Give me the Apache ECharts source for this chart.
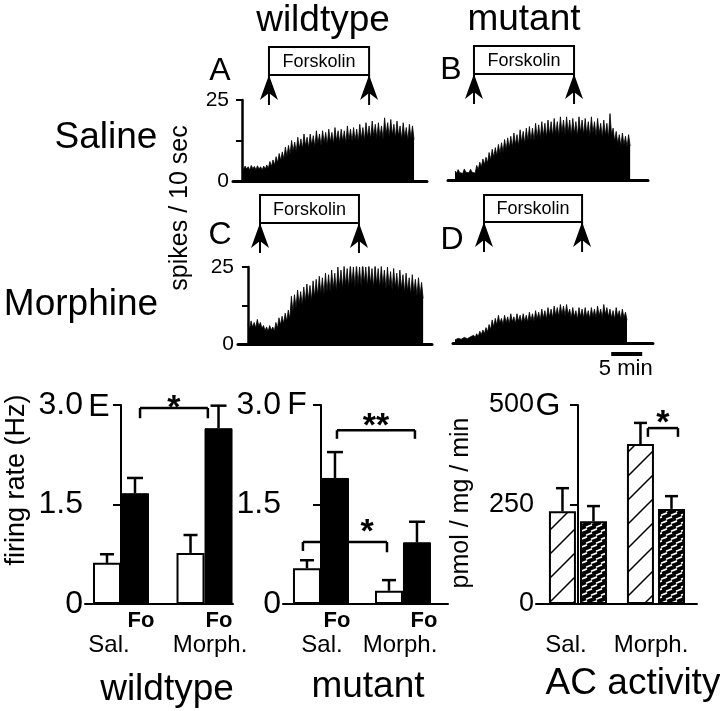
<!DOCTYPE html>
<html><head><meta charset="utf-8">
<script src="https://cdn.jsdelivr.net/npm/echarts@6/dist/echarts.min.js"></script>
<style>html,body{margin:0;padding:0;background:#fff}#c{width:720px;height:711px}</style>
</head><body><div id="c"></div><script>
const FONT = '"Liberation Sans", Arial, Helvetica, sans-serif';

// ---------- DATA ----------
// Spike traces: spikes / 10 sec, one value every 0.25 min from trace start
const binMinutes = 0.25;
const traceA = [4.3,3.5,4.6,3.7,4.4,3.4,4.8,3.8,4.5,3.5,4.7,3.6,4.4,3.4,4.6,3.7,4.9,3.9,6,4.5,6.5,4.9,7.5,5.6,8.5,6.3,9,6.8,10.5,7.6,11,8.2,12.5,9.2,12,9,13.5,10,13,9.8,14.5,10.8,13.5,10.2,14.5,11,14,10.5,15.5,11.5,14.5,10.9,15.5,11.8,15,11.2,16,12,15,11.4,16.5,12.3,15.5,11.8,16,12.1,15.5,11.6,17,12.6,16,12.2,16.5,12.4,16,12,17.5,13,16.5,12.5,18,13.4,17,12.9,18.5,13.7,17.5,13.2,18,13.6,17,12.8,19.5,14.4,18,13.6,19,14.1,17.5,13.3,18.5,13.9,17,12.9,18,13.5,16.5,12.5,17.5,13.2,17,12.8];
const traceB = [2.8,2.1,3.2,2.3,2.6,2,3.4,2.4,3,2.2,3.3,2.4,2.9,2.1,4.5,3.2,5.5,4,6.5,4.8,7,5.2,8.5,6.2,9.5,7,10,7.5,11,8.2,11.5,8.6,12.5,9.3,13,9.8,13.5,10.1,14.5,10.8,14,10.5,15.5,11.6,15,11.2,16,12,16.5,12.3,16,12,17.5,13,17,12.8,18,13.5,17.5,13.1,18.5,13.8,18,13.5,19,14.2,18,13.5,19.5,14.6,18.5,13.9,19.5,14.5,18.5,13.8,19,14.3,18,13.4,19.5,14.6,18.5,13.9,19,14.2,18,13.5,19.5,14.5,18,13.5,19,14.2,17.5,13.1,18.5,13.8,17.5,13,20.5,14,16,12,15,11.2,14,10.5,14.5,10.8,13.5,10.1,14,10.5];
const traceC = [6.5,4.8,7.5,5.4,7,5.2,8,5.8,7,5.1,6,4.4,5.5,4.1,6,4.5,5.5,4.2,7,5.1,8.5,6.2,9,6.6,10,7.4,11,8,15.5,10.5,16,11.8,17.5,12.8,17,12.6,18.5,13.6,19.5,14.4,19,14.1,20.5,15.2,21,15.6,22,16.3,21.5,16,23,17,22.5,16.8,24,17.8,23,17.1,25,18.5,24,17.9,25.5,19,24.5,18.2,26,19.4,25,18.6,26,19.3,25,18.6,26.5,19.7,25,18.6,26,19.4,24.5,18.2,26,19.3,24.5,18.2,25.5,19,24,17.8,25,18.6,23.5,17.5,24.5,18.2,23,17.1,24,17.8,22.5,16.7,23,17.1,21.5,16,22.5,16.7,21,15.6,21.5,16,20,14.8];
const traceD = [1,0.7,1.5,1,1.2,0.8,1.8,1.2,1.4,1,2,1.4,2.5,1.8,3,2.1,3.8,2.7,4.2,3,5,3.6,6,4.3,7.5,5.2,8,5.8,9,6.4,8,5.9,9,6.6,8.5,6.2,9.5,6.9,8.5,6.3,9.5,7,9,6.6,9.5,7,9,6.7,10,7.3,9.5,7,10.5,7.7,10,7.4,11,8.1,10.5,7.7,11.5,8.4,11,8.1,12,8.8,11.5,8.5,12.5,9.2,12,8.8,12.5,9.2,11,8.1,11.5,8.5,10.5,7.7,11.5,8.5,11,8.1,11.5,8.4,10.5,7.8,11.5,8.5,11,8.1,12,8.8,11,8.1,12.5,9.2,11.5,8.5,11,8.1,10.5,7.7,11.5,8.5,10.5,7.7,11,8.1,10,7.4];
// Forskolin application (min from trace start): [on, off]
const forskolinA = [4.35, 20.5];
const forskolinB = [3.06, 19.2];
const forskolinC = [1.94, 17.9];
const forskolinD = [4.68, 20.5];
const scaleBarMinutes = 5;
const traceTicks = [0, 12.5, 25];

// Bar panels
const groups = ['Sal.', 'Morph.'];
// E: wildtype firing rate (Hz)
const wtControl = [0.62, 0.77];
const wtControlErr = [0.75, 1.04];
const wtFo = [1.67, 2.65];
const wtFoErr = [1.90, 2.99];
// F: mutant firing rate (Hz)
const mutControl = [0.54, 0.20];
const mutControlErr = [0.66, 0.36];
const mutFo = [1.90, 0.93];
const mutFoErr = [2.29, 1.24];
// G: AC activity (pmol / mg / min)
const acWildtype = [233, 402];
const acWildtypeErr = [291, 455];
const acMutant = [208, 239];
const acMutantErr = [246, 271];

// ---------- PATTERNS ----------
function diagPattern() {
  const c = document.createElement('canvas'); c.width = 24; c.height = 24;
  const g = c.getContext('2d');
  g.fillStyle = '#fff'; g.fillRect(0, 0, 24, 24);
  g.strokeStyle = '#000'; g.lineWidth = 1.5;
  g.beginPath();
  g.moveTo(-2, 26); g.lineTo(26, -2);
  g.moveTo(-2, 2); g.lineTo(2, -2);
  g.moveTo(22, 26); g.lineTo(26, 22);
  g.stroke();
  return c;
}
function densePattern() {
  const c = document.createElement('canvas'); c.width = 10; c.height = 8;
  const g = c.getContext('2d');
  g.fillStyle = '#000'; g.fillRect(0, 0, 10, 8);
  g.strokeStyle = '#fff'; g.lineWidth = 1.7;
  g.beginPath();
  g.moveTo(1, 3.2); g.lineTo(7, 0.9);
  g.moveTo(6, 7.2); g.lineTo(12, 4.9);
  g.moveTo(-4, 7.2); g.lineTo(2, 4.9);
  g.stroke();
  return c;
}

// ---------- CHART ----------
const chart = echarts.init(document.getElementById('c'), null, {renderer: 'canvas'});
const black = '#000';

const traceGrids = [
  {left: 233, top: 100, width: 194, height: 81},
  {left: 448, top: 99, width: 200, height: 81},
  {left: 238, top: 267, width: 194, height: 77},
  {left: 453, top: 266, width: 200, height: 77}
];
const barGrids = [
  {left: 85, top: 405, width: 148, height: 199},
  {left: 283, top: 405, width: 165, height: 199},
  {left: 536, top: 405, width: 161, height: 199}
];
const traceXRange = [[-1.45, 29.84], [-1.13, 31.13], [-1.61, 29.68], [-0.32, 31.94]];
const barXRange = [[-0.431, 1.341], [-0.463, 1.549], [-0.538, 1.526]];
const traces = [traceA, traceB, traceC, traceD];
const showTraceY = [true, false, true, false];

const xAxes = [], yAxes = [], series = [];
traces.forEach((tr, i) => {
  xAxes.push({gridIndex: i, type: 'value', min: traceXRange[i][0], max: traceXRange[i][1],
    axisLine: {show: true, onZero: false, lineStyle: {color: black, width: 3}},
    axisTick: {show: false}, axisLabel: {show: false}, splitLine: {show: false}});
  yAxes.push({gridIndex: i, type: 'value', min: traceTicks[0], max: traceTicks[2], interval: traceTicks[1],
    show: showTraceY[i],
    axisLine: {show: true, lineStyle: {color: black, width: 2.5}},
    axisTick: {show: true, length: 6, lineStyle: {color: black, width: 2}},
    axisLabel: {color: black, fontSize: 21, margin: 4, fontFamily: FONT,
      formatter: v => (v === traceTicks[1] ? '' : String(v))},
    splitLine: {show: false}});
  series.push({type: 'line', xAxisIndex: i, yAxisIndex: i,
    data: tr.map((v, k) => [k * binMinutes, v]),
    symbol: 'none', lineStyle: {color: black, width: 0.8}, areaStyle: {color: black, opacity: 1},
    silent: true});
});

const barYMax = [3, 3, 500];
const barYInt = [1.5, 1.5, 250];
barGrids.forEach((g, j) => {
  const gi = 4 + j;
  xAxes.push({gridIndex: gi, type: 'value', min: barXRange[j][0], max: barXRange[j][1],
    axisLine: {show: true, onZero: false, lineStyle: {color: black, width: 2}},
    axisTick: {show: false}, axisLabel: {show: false}, splitLine: {show: false}});
  yAxes.push({gridIndex: gi, type: 'value', min: 0, max: barYMax[j], interval: barYInt[j],
    axisLine: {show: true, lineStyle: {color: black, width: 2}},
    axisTick: {show: true, length: 8, lineStyle: {color: black, width: 2}},
    axisLabel: {color: black, fontSize: j === 2 ? 27 : 32, margin: 2, fontFamily: FONT,
      formatter: v => (j === 2 ? String(v) : (v === 0 ? '0' : v.toFixed(1)))},
    splitLine: {show: false}});
});

function barSeries(gi, vals, style, width, gap) {
  return {type: 'bar', xAxisIndex: gi, yAxisIndex: gi, barWidth: width, barGap: gap,
    data: vals.map((v, k) => [k, v]), itemStyle: style, silent: true};
}
function errSeries(gi, vals, errs, offset, cap) {
  return {type: 'custom', xAxisIndex: gi, yAxisIndex: gi, z: 5, silent: true,
    data: vals.map((v, k) => [k, v, errs[k]]),
    renderItem(params, api) {
      const p0 = api.coord([api.value(0), api.value(1)]);
      const p1 = api.coord([api.value(0), api.value(2)]);
      const x = p0[0] + offset;
      return {type: 'group', children: [
        {type: 'line', shape: {x1: x, y1: p0[1], x2: x, y2: p1[1]}, style: {stroke: black, lineWidth: 2.5}},
        {type: 'line', shape: {x1: x - cap / 2, y1: p1[1], x2: x + cap / 2, y2: p1[1]}, style: {stroke: black, lineWidth: 2.5}}
      ]};
    }};
}
const whiteBar = {color: '#fff', borderColor: black, borderWidth: 2};
const blackBar = {color: black, borderColor: black, borderWidth: 1};
series.push(barSeries(4, wtControl, whiteBar, 28, '0%'));
series.push(barSeries(4, wtFo, blackBar, 28, '0%'));
series.push(errSeries(4, wtControl, wtControlErr, -14, 14));
series.push(errSeries(4, wtFo, wtFoErr, 14, 16));
series.push(barSeries(5, mutControl, whiteBar, 28, '0%'));
series.push(barSeries(5, mutFo, blackBar, 28, '0%'));
series.push(errSeries(5, mutControl, mutControlErr, -14, 14));
series.push(errSeries(5, mutFo, mutFoErr, 14, 16));
series.push(barSeries(6, acWildtype, {color: {image: diagPattern(), repeat: 'repeat'}, borderColor: black, borderWidth: 2}, 27, '15%'));
series.push(barSeries(6, acMutant, {color: {image: densePattern(), repeat: 'repeat'}, borderColor: black, borderWidth: 2}, 27, '15%'));
series.push(errSeries(6, acWildtype, acWildtypeErr, -15.5, 13));
series.push(errSeries(6, acMutant, acMutantErr, 15.5, 13));

chart.setOption({
  animation: false,
  backgroundColor: '#fff',
  textStyle: {fontFamily: FONT},
  grid: traceGrids.concat(barGrids),
  xAxis: xAxes, yAxis: yAxes, series: series
});

// ---------- ANNOTATIONS ----------
const px = (gi, x, y) => chart.convertToPixel({gridIndex: gi}, [x, y]);
const G = [];
function txt(text, x, y, size, opts) {
  opts = opts || {};
  G.push({type: 'text', x: x, y: y, rotation: opts.rot || 0, z: 20,
    style: {text: text, fill: black, font: (opts.bold ? 'bold ' : '') + size + 'px ' + FONT,
      textAlign: opts.align || 'center', textVerticalAlign: 'middle'}});
}
function line(x1, y1, x2, y2, w) {
  G.push({type: 'line', z: 20, shape: {x1, y1, x2, y2}, style: {stroke: black, lineWidth: w || 2}});
}

// Forskolin boxes and arrows
const fors = [forskolinA, forskolinB, forskolinC, forskolinD];
const boxY = [[47, 75], [46, 74], [195, 223], [195, 222]];
fors.forEach((f, i) => {
  const x1 = px(i, f[0], 0)[0], x2 = px(i, f[1], 0)[0];
  const top = boxY[i][0], bot = boxY[i][1];
  G.push({type: 'rect', z: 20, shape: {x: x1, y: top, width: x2 - x1, height: bot - top},
    style: {fill: '#fff', stroke: black, lineWidth: 2}});
  txt('Forskolin', (x1 + x2) / 2, (top + bot) / 2 + 1, 18);
  [x1, x2].forEach(x => {
    line(x, bot, x, bot + 30, 2);
    G.push({type: 'polygon', z: 21, shape: {points: [[x, bot], [x - 9, bot + 25], [x, bot + 18], [x + 9, bot + 25]]},
      style: {fill: black}});
  });
});

// scale bar (panel D)
const sb0 = px(3, 25.2, 0), sb1 = px(3, 25.2 + scaleBarMinutes, 0);
line(sb0[0], sb0[1] + 11, sb1[0], sb1[1] + 11, 4);
txt(scaleBarMinutes + ' min', (sb0[0] + sb1[0]) / 2 - 1, sb0[1] + 26, 22);

// significance brackets
function bracket(gi, xa, xb, yTop, dropA, dropB, stars, starY, starX) {
  const a = px(gi, xa, yTop), b = px(gi, xb, yTop);
  const ad = px(gi, xa, dropA), bd = px(gi, xb, dropB);
  line(a[0], ad[1], a[0], a[1], 2.5);
  line(a[0], a[1], b[0], b[1], 2.5);
  line(b[0], b[1], b[0], bd[1], 2.5);
  txt(stars, starX !== undefined ? starX : (a[0] + b[0]) / 2, starY + 8, 34, {bold: true});
}
bracket(4, 0.228, 1.04, 2.955, 2.80, 2.80, '*', 401);
bracket(5, 0.195, 1.146, 2.62, 2.49, 2.49, '**', 419);
bracket(5, -0.22, 0.805, 0.935, 0.80, 0.78, '*', 525, 367);
bracket(6, 0.897, 1.282, 442, 420, 420, '*', 416);

// titles and labels
txt('wildtype', 323, 21, 37);
txt('mutant', 524, 20, 37);
txt('Saline', 106, 138, 37);
txt('Morphine', 81, 305, 37);
txt('A', 220, 71, 32); txt('B', 451, 70, 32); txt('C', 220, 235, 32); txt('D', 452, 240, 32);
txt('E', 99, 407, 32); txt('F', 297, 405, 32); txt('G', 548, 406, 32);
txt('spikes / 10 sec', 180, 208, 25, {rot: Math.PI / 2});
txt('firing rate (Hz)', 17, 480, 27, {rot: Math.PI / 2});
txt('pmol / mg / min', 461, 503, 25, {rot: Math.PI / 2});

txt('Fo', 141, 621, 22, {bold: true}); txt('Fo', 219, 621, 22, {bold: true});
txt('Fo', 337, 621, 22, {bold: true}); txt('Fo', 424, 621, 22, {bold: true});
txt(groups[0], 109, 645, 24); txt(groups[1], 210, 645, 24);
txt(groups[0], 322, 645, 24); txt(groups[1], 400, 645, 24);
txt(groups[0], 566, 645, 24); txt(groups[1], 651, 645, 24);
txt('wildtype', 167, 690, 37);
txt('mutant', 368, 687, 37);
txt('AC activity', 633, 684, 37);

chart.setOption({graphic: {elements: G}});
</script></body></html>
